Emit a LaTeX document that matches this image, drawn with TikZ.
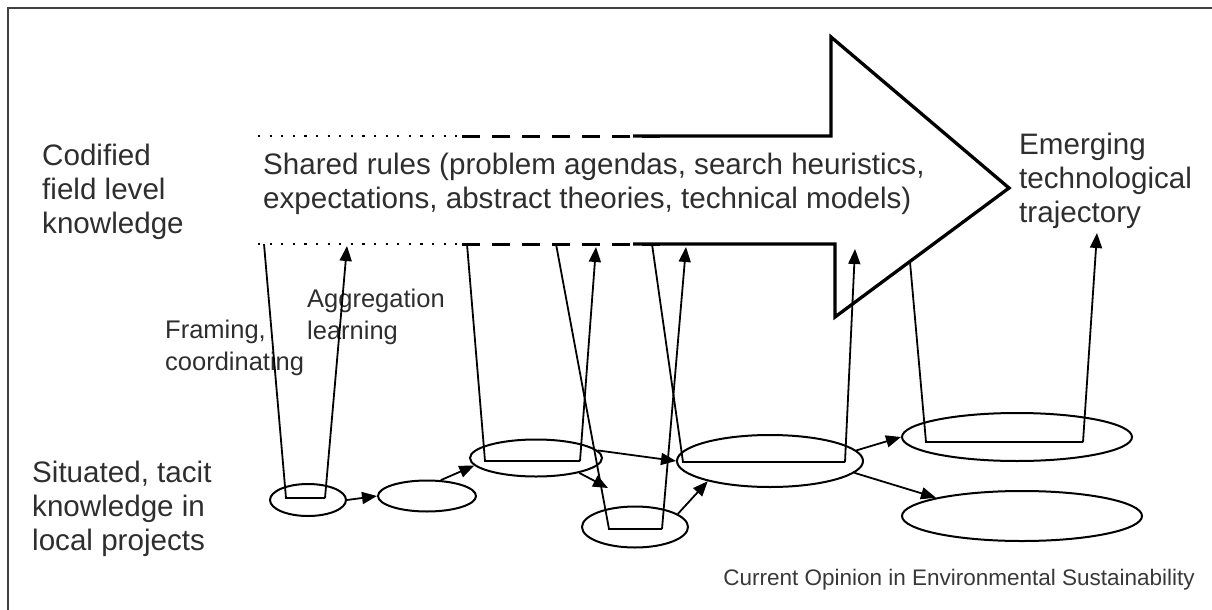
\documentclass[tikz,border=0pt]{standalone}
\usepackage{fontspec}
\setmainfont{Liberation Sans}
\usetikzlibrary{arrows.meta,shapes.geometric}

\begin{document}
\begin{tikzpicture}[x=1pt,y=-1pt,
  lbl/.style={font=\fontsize{29.6}{34}\selectfont, align=left, inner sep=0pt, text=black!82},
  sml/.style={font=\fontsize{25.5}{32}\selectfont, align=left, inner sep=0pt, text=black!82},
  note/.style={font=\fontsize{22.5}{27}\selectfont, inner sep=0pt, text=black!78},
  proj/.style={ellipse, draw, line width=2pt, inner sep=0pt},
  cupline/.style={line width=1.8pt, line join=miter},
  arr/.style={-{Triangle[length=15pt,width=12pt]}, line width=1.8pt},
  bigarrow/.style={line width=3.3pt, line join=miter},
  dotline/.style={line width=2.2pt, dash pattern=on 2.2pt off 9.4pt},
  dashline/.style={line width=3pt, dash pattern=on 18pt off 12pt},
  frame/.style={line width=2pt, draw=black!75}
]
\useasboundingbox (0,0) rectangle (1212,610);

% outer frame (top and left edges)
\draw[frame] (8,610) -- (8,8) -- (1212,8);

% text labels (anchored at the baseline of their last line)
\node[lbl, anchor=base west] (codified) at (42,233) {Codified\\field level\\knowledge};
\node[lbl, anchor=base west] (shared) at (263,208)
  {Shared rules (problem agendas, search heuristics,\\expectations, abstract theories, technical models)};
\node[lbl, anchor=base west] (emerging) at (1019,222) {Emerging\\technological\\trajectory};
\node[lbl, anchor=base west] (situated) at (32,550) {Situated, tacit\\knowledge in\\local projects};
\node[sml, anchor=base west] (aggr) at (307,339) {Aggregation\\learning};
\node[sml, anchor=base west] (framing) at (165,370) {Framing,\\coordinating};
\node[note, anchor=base east] (source) at (1195,585) {Current Opinion in Environmental Sustainability};

% boundary of the shared-rules band: dotted, then dashed
\coordinate (tdot) at (258,136);
\coordinate (tdash) at (462,136);
\coordinate (tend) at (665,136);
\coordinate (bdot) at (258,244);
\coordinate (bdash) at (462,244);
\coordinate (bend) at (665,244);
\draw[dotline] (tdot) -- (tdash);
\draw[dotline] (bdot) -- (bdash);
\draw[dashline] (tdash) -- (tend);
\draw[dashline] (bdash) -- (bend);

% the large trajectory arrow
\coordinate (atl) at (633,136);
\coordinate (atn) at (831,136);
\coordinate (atop) at (831,37);
\coordinate (tip) at (1009,188);
\coordinate (abot) at (835,317);
\coordinate (abn) at (835,244);
\coordinate (abl) at (633,244);
\draw[bigarrow] (atl) -- (atn) -- (atop) -- (tip) -- (abot) -- (abn) -- (abl);

% local projects
\node[proj, minimum width=76pt, minimum height=32pt] (e1) at (308,500) {};
\node[proj, minimum width=98pt, minimum height=31pt] (e2) at (427,496) {};
\node[proj, minimum width=132pt, minimum height=37pt] (e3) at (536,458) {};
\node[proj, minimum width=106pt, minimum height=41pt] (e4) at (635,527) {};
\node[proj, minimum width=186pt, minimum height=52pt] (e5) at (770,461) {};
\node[proj, minimum width=230pt, minimum height=48pt] (e6) at (1017,437) {};
\node[proj, minimum width=240pt, minimum height=50pt] (e7) at (1022,516) {};

% framing (down) and aggregation (up) links for each project
\coordinate (c1a) at (264,244); \coordinate (c1b) at (286,498);
\coordinate (c1c) at (325,498); \coordinate (c1d) at (347,246);
\coordinate (c2a) at (467,244); \coordinate (c2b) at (485,461);
\coordinate (c2c) at (580,461); \coordinate (c2d) at (596,247);
\coordinate (c3a) at (556,244); \coordinate (c3b) at (609,529);
\coordinate (c3c) at (662,529); \coordinate (c3d) at (686,247);
\coordinate (c4a) at (652,244); \coordinate (c4b) at (683,462);
\coordinate (c4c) at (845,462); \coordinate (c4d) at (855,249);
\coordinate (c5a) at (910,262); \coordinate (c5b) at (926,442);
\coordinate (c5c) at (1083,442); \coordinate (c5d) at (1097,233);

\draw[cupline] (c1a) -- (c1b) -- (c1c);
\draw[arr] (c1c) -- (c1d);
\draw[cupline] (c2a) -- (c2b) -- (c2c);
\draw[arr] (c2c) -- (c2d);
\draw[cupline] (c3a) -- (c3b) -- (c3c);
\draw[arr] (c3c) -- (c3d);
\draw[cupline] (c4a) -- (c4b) -- (c4c);
\draw[arr] (c4c) -- (c4d);
\draw[cupline] (c5a) -- (c5b) -- (c5c);
\draw[arr] (c5c) -- (c5d);

% succession between projects
\coordinate (m34) at (608,488);
\draw[arr] (e1.east) -- (e2.west);
\draw[arr] (e2.49) -- (e3.187);
\draw[arr] (e3.-19) -- (m34);
\draw[arr] (e3.7) -- (e5.west);
\draw[arr] (e4.17) -- (e5.198);
\draw[arr] (e5.7) -- (e6.west);
\draw[arr] (e5.-8) -- (e7.168);
\end{tikzpicture}
\end{document}
